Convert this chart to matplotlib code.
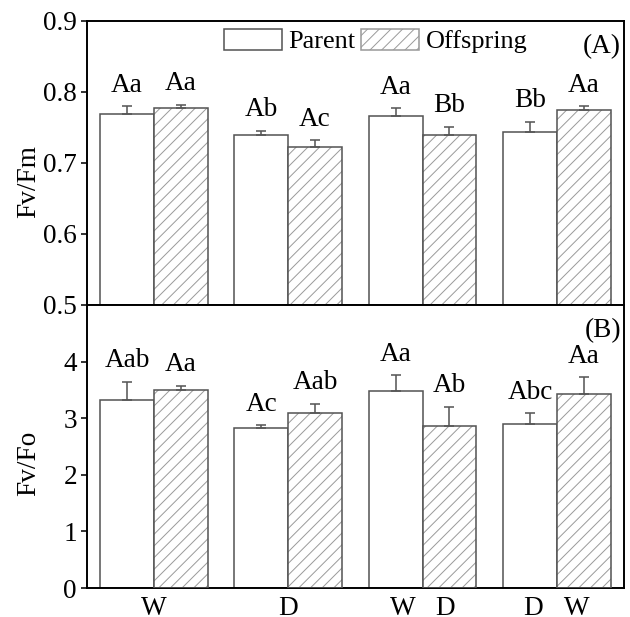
import numpy as np
import matplotlib
matplotlib.use("Agg")
import matplotlib.pyplot as plt
from matplotlib.patches import Patch

plt.rcParams['font.family'] = ['Liberation Serif', 'DejaVu Serif']
plt.rcParams['font.size'] = 14
plt.rcParams['hatch.linewidth'] = 0.5
plt.rcParams['axes.linewidth'] = 1.0

# donnees
groupes = ["W", "D", "W   D", "D   W"]
fvfm_parent = [0.769, 0.739, 0.766, 0.744]
fvfm_parent_err = [0.011, 0.006, 0.011, 0.014]
fvfm_offspring = [0.778, 0.722, 0.740, 0.774]
fvfm_offspring_err = [0.004, 0.010, 0.011, 0.006]
fvfm_lettres_p = ["Aa", "Ab", "Aa", "Bb"]
fvfm_lettres_o = ["Aa", "Ac", "Bb", "Aa"]

fvfo_parent = [3.33, 2.835, 3.48, 2.90]
fvfo_parent_err = [0.31, 0.04, 0.28, 0.19]
fvfo_offspring = [3.49, 3.09, 2.86, 3.42]
fvfo_offspring_err = [0.08, 0.16, 0.34, 0.30]
fvfo_lettres_p = ["Aab", "Ac", "Aa", "Abc"]
fvfo_lettres_o = ["Aa", "Aab", "Ab", "Aa"]

x = np.arange(len(groupes))
largeur = 0.4
bord = '#555555'
hachure = '#9a9a9a'

fig = plt.figure(figsize=(4.5, 617 / 140), dpi=140)
ax1 = fig.add_axes([0.1376, 0.5057, 0.853, 0.4603])
ax2 = fig.add_axes([0.1376, 0.047, 0.853, 0.4587])


def tracer(ax, parent, perr, offs, oerr, lp, lo):
    ax.bar(x - largeur / 2, parent, largeur, color='white', edgecolor=bord, linewidth=0.8, zorder=2)
    ax.bar(x + largeur / 2, offs, largeur, color='white', hatch='////', edgecolor=hachure, linewidth=0, zorder=2)
    ax.bar(x + largeur / 2, offs, largeur, fill=False, edgecolor=bord, linewidth=0.8, zorder=3)
    zeros = np.zeros(len(x))
    ax.errorbar(x - largeur / 2, parent, yerr=[zeros, perr], fmt='none', ecolor=bord,
                elinewidth=0.8, capsize=2.6, capthick=0.8, zorder=4)
    ax.errorbar(x + largeur / 2, offs, yerr=[zeros, oerr], fmt='none', ecolor=bord,
                elinewidth=0.8, capsize=2.6, capthick=0.8, zorder=4)
    for xi, v, e, t in zip(x - largeur / 2, parent, perr, lp):
        ax.annotate(t, (xi, v + e), xytext=(0, 7.5), textcoords='offset points',
                    ha='center', va='baseline', fontsize=14)
    for xi, v, e, t in zip(x + largeur / 2, offs, oerr, lo):
        ax.annotate(t, (xi, v + e), xytext=(0, 7.5), textcoords='offset points',
                    ha='center', va='baseline', fontsize=14)
    ax.set_xlim(-0.5, 3.5)
    ax.tick_params(axis='y', direction='out', length=3, width=0.8, labelsize=14, pad=2)
    ax.tick_params(axis='x', length=0, labelsize=14, pad=4)


tracer(ax1, fvfm_parent, fvfm_parent_err, fvfm_offspring, fvfm_offspring_err, fvfm_lettres_p, fvfm_lettres_o)
tracer(ax2, fvfo_parent, fvfo_parent_err, fvfo_offspring, fvfo_offspring_err, fvfo_lettres_p, fvfo_lettres_o)

ax1.set_ylim(0.5, 0.9)
ax1.set_yticks([0.5, 0.6, 0.7, 0.8, 0.9])
ax1.set_xticks([])
ax1.set_ylabel('Fv/Fm', fontsize=14)
ax1.yaxis.set_label_coords(-0.085, 0.435)
ax1.text(0.9944, 0.887, '(A)', transform=ax1.transAxes, ha='right', va='baseline', fontsize=14)

ax2.set_ylim(0, 5)
ax2.set_yticks([0, 1, 2, 3, 4])
ax2.set_xticks(x)
ax2.set_xticklabels(groupes)
ax2.set_ylabel('Fv/Fo', fontsize=14)
ax2.yaxis.set_label_coords(-0.085, 0.442)
ax2.text(0.9944, 0.887, '(B)', transform=ax2.transAxes, ha='right', va='baseline', fontsize=14)

poignees = [Patch(facecolor='white', edgecolor=bord, linewidth=0.8),
            Patch(facecolor='white', edgecolor=hachure, hatch='////', linewidth=0.8)]
ax1.legend(poignees, ['Parent', 'Offspring'], loc='center left', bbox_to_anchor=(0.2555, 0.93),
           ncol=2, frameon=False, fontsize=13.5, handlelength=2.2, handleheight=0.85,
           handletextpad=0.24, columnspacing=0.24, borderpad=0, borderaxespad=0)

plt.savefig('out.png', dpi=140)
